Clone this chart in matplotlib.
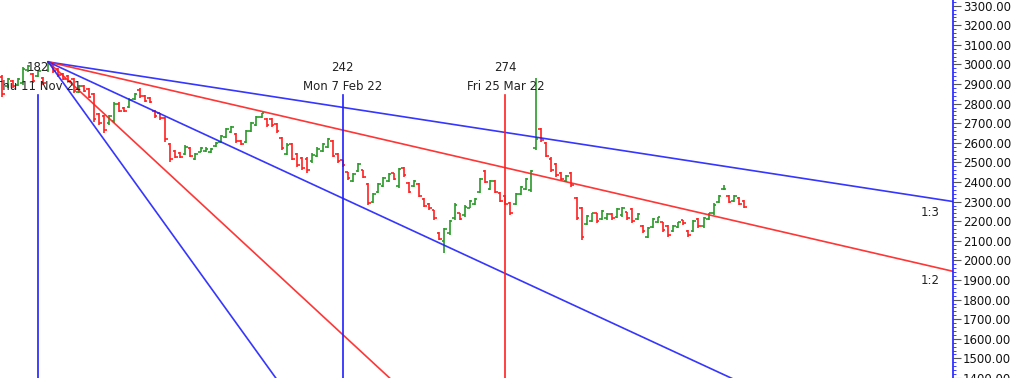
import matplotlib.pyplot as plt
from matplotlib.ticker import MultipleLocator, FormatStrFormatter

# bar numbers shown on the chart (trading-day index)
bars = list(range(175, 322))

opens = [2935, 2890, 2915, 2895, 2905, 2970, 2950, 2940, 2930, 2970,
         2995, 2975, 2950, 2940, 2925, 2860, 2890, 2875, 2850, 2745,
         2735, 2700, 2710, 2800, 2780, 2785, 2825, 2870, 2840, 2830,
         2765, 2750, 2725, 2595, 2560, 2550, 2545, 2575, 2520, 2555,
         2560, 2555, 2585, 2605, 2630, 2655, 2645, 2610, 2605, 2660,
         2690, 2730, 2720, 2720, 2695, 2625, 2545, 2595, 2545, 2525,
         2520, 2505, 2535, 2560, 2580, 2610, 2545, 2510, 2450, 2405,
         2455, 2460, 2390, 2300, 2350, 2380, 2405, 2445, 2380, 2470,
         2395, 2380, 2390, 2315, 2290, 2255, 2140, 2100, 2140, 2215,
         2240, 2230, 2270, 2290, 2350, 2455, 2365, 2405, 2345, 2330,
         2295, 2290, 2340, 2365, 2360, 2575, 2670, 2600, 2520, 2490,
         2445, 2405, 2445, 2320, 2265, 2185, 2200, 2240, 2210, 2215,
         2235, 2220, 2230, 2245, 2260, 2210, 2175, 2120, 2170, 2195,
         2195, 2175, 2150, 2170, 2205, 2150, 2150, 2210, 2175, 2210,
         2240, 2300, 2362, 2330, 2305, 2320, 2305]

highs = [2946, 2931, 2921, 2931, 2987, 2998, 2957, 2972, 2936, 3013,
         2998, 2982, 2957, 2946, 2931, 2896, 2896, 2880, 2855, 2753,
         2743, 2743, 2809, 2809, 2783, 2829, 2855, 2880, 2845, 2834,
         2768, 2753, 2732, 2600, 2564, 2554, 2590, 2579, 2549, 2579,
         2579, 2574, 2605, 2641, 2676, 2686, 2651, 2615, 2666, 2707,
         2737, 2753, 2727, 2727, 2702, 2630, 2600, 2600, 2549, 2528,
         2528, 2549, 2579, 2600, 2625, 2615, 2549, 2513, 2452, 2447,
         2498, 2462, 2396, 2345, 2396, 2426, 2447, 2447, 2472, 2477,
         2401, 2411, 2396, 2319, 2294, 2258, 2146, 2166, 2207, 2294,
         2243, 2284, 2309, 2319, 2421, 2462, 2411, 2411, 2350, 2335,
         2299, 2345, 2380, 2421, 2462, 2931, 2676, 2605, 2528, 2498,
         2452, 2437, 2452, 2324, 2273, 2233, 2243, 2243, 2258, 2243,
         2243, 2268, 2273, 2248, 2268, 2243, 2182, 2171, 2217, 2222,
         2197, 2182, 2182, 2197, 2207, 2156, 2207, 2217, 2222, 2243,
         2294, 2335, 2386, 2335, 2335, 2324, 2309]

lows = [2834, 2880, 2880, 2890, 2896, 2962, 2906, 2936, 2896, 2962,
        2957, 2936, 2921, 2911, 2855, 2855, 2860, 2829, 2707, 2692,
        2651, 2692, 2702, 2758, 2758, 2778, 2819, 2829, 2809, 2804,
        2727, 2717, 2605, 2503, 2523, 2523, 2539, 2528, 2513, 2554,
        2554, 2549, 2579, 2600, 2625, 2651, 2600, 2590, 2600, 2656,
        2686, 2727, 2681, 2681, 2651, 2564, 2539, 2513, 2477, 2462,
        2447, 2498, 2528, 2554, 2574, 2528, 2498, 2477, 2411, 2401,
        2452, 2421, 2284, 2294, 2345, 2375, 2401, 2411, 2370, 2426,
        2345, 2375, 2324, 2273, 2258, 2207, 2105, 2039, 2131, 2207,
        2207, 2222, 2268, 2284, 2345, 2396, 2360, 2345, 2299, 2284,
        2233, 2284, 2335, 2360, 2350, 2564, 2605, 2528, 2452, 2426,
        2411, 2401, 2375, 2207, 2105, 2182, 2197, 2192, 2207, 2207,
        2207, 2217, 2222, 2207, 2192, 2207, 2141, 2115, 2166, 2192,
        2146, 2120, 2146, 2166, 2182, 2120, 2146, 2166, 2166, 2207,
        2233, 2294, 2360, 2294, 2299, 2284, 2268]

closes = [2850, 2925, 2890, 2925, 2975, 2990, 2915, 2965, 2905, 3005,
          2965, 2945, 2925, 2915, 2865, 2890, 2865, 2835, 2720, 2700,
          2665, 2735, 2800, 2765, 2765, 2820, 2850, 2840, 2815, 2810,
          2735, 2725, 2620, 2520, 2530, 2530, 2580, 2535, 2545, 2575,
          2570, 2570, 2600, 2635, 2670, 2680, 2610, 2595, 2660, 2700,
          2730, 2750, 2690, 2690, 2660, 2575, 2590, 2520, 2485, 2470,
          2460, 2540, 2570, 2595, 2620, 2535, 2505, 2485, 2420, 2440,
          2490, 2425, 2295, 2340, 2390, 2420, 2440, 2415, 2465, 2435,
          2350, 2405, 2330, 2280, 2265, 2215, 2110, 2160, 2200, 2285,
          2210, 2275, 2305, 2315, 2415, 2400, 2405, 2350, 2305, 2290,
          2240, 2340, 2375, 2415, 2455, 2620, 2615, 2535, 2460, 2435,
          2415, 2430, 2385, 2215, 2120, 2225, 2240, 2200, 2250, 2235,
          2215, 2260, 2265, 2215, 2200, 2235, 2150, 2165, 2210, 2220,
          2155, 2130, 2175, 2195, 2190, 2130, 2200, 2175, 2215, 2240,
          2285, 2330, 2364, 2300, 2330, 2290, 2275]

# gann fan: origin bar / price and price units per bar for 1x1
fan_bar = 184
fan_price = 3013
fan_unit = 12.0
fan_ratios = [1/3, 1/2, 1, 2, 3]
fan_colors = ['#2020ff', '#ff2020', '#2020ff', '#ff2020', '#2020ff']
fan_labels = ['1:3', '1:2', '', '', '']

# marked bars with date labels
mark_bars = [182, 242, 274]
mark_dates = ['Thu 11 Nov 21', 'Mon 7 Feb 22', 'Fri 25 Mar 22']
mark_colors = ['#2020ff', '#2020ff', '#ff2020']

up_col = '#2a9a2a'
dn_col = '#ff2020'

fig = plt.figure(figsize=(10.18, 3.78), dpi=100)
ax = fig.add_axes([0, 0, 953/1018, 1])

x_lo, x_hi = 174.52, 362.1
y_lo, y_hi = 1400, 3329
ax.set_xlim(x_lo, x_hi)
ax.set_ylim(y_lo, y_hi)

# OHLC bars
for b, o, h, l, c in zip(bars, opens, highs, lows, closes):
    col = up_col if c >= o else dn_col
    ax.vlines(b, l, h, color=col, lw=1.2)
    ax.hlines(o, b - 0.5, b, color=col, lw=1.2)
    ax.hlines(c, b, b + 0.5, color=col, lw=1.2)

# fan lines
for r, col, lab in zip(fan_ratios, fan_colors, fan_labels):
    slope = fan_unit * r
    ax.plot([fan_bar, x_hi], [fan_price, fan_price - slope * (x_hi - fan_bar)],
            color=col, lw=1.2, alpha=0.9)
    if lab:
        yl = fan_price - slope * (x_hi - 4.5 - fan_bar)
        ax.text(x_hi - 4.5, yl - 40, lab, ha='center', va='top',
                fontsize=8.5, color='#222222')

# vertical markers
for b, d, col in zip(mark_bars, mark_dates, mark_colors):
    ax.axvline(b, ymin=0, ymax=1 - 95/378, color=col, lw=1.2)
    ax.text(b, y_hi - 68*5.1, str(b), ha='center', va='center',
            fontsize=8.5, color='#222222')
    ax.text(b, y_hi - 87*5.1, d, ha='center', va='center',
            fontsize=8.5, color='#222222')

# axis styling
for s in ['top', 'left', 'bottom']:
    ax.spines[s].set_visible(False)
ax.spines['right'].set_color('#2020ff')
ax.spines['right'].set_linewidth(1.2)
ax.set_xticks([])
ax.yaxis.tick_right()
ax.yaxis.set_major_locator(MultipleLocator(100))
ax.yaxis.set_minor_locator(MultipleLocator(20))
ax.yaxis.set_major_formatter(FormatStrFormatter('%.2f'))
ax.tick_params(axis='y', which='major', length=6, color='#555555',
               labelsize=8.5, labelcolor='#111111', pad=1)
ax.tick_params(axis='y', which='minor', length=2.5, color='#2020ff')

fig.savefig('out.png', dpi=100)
